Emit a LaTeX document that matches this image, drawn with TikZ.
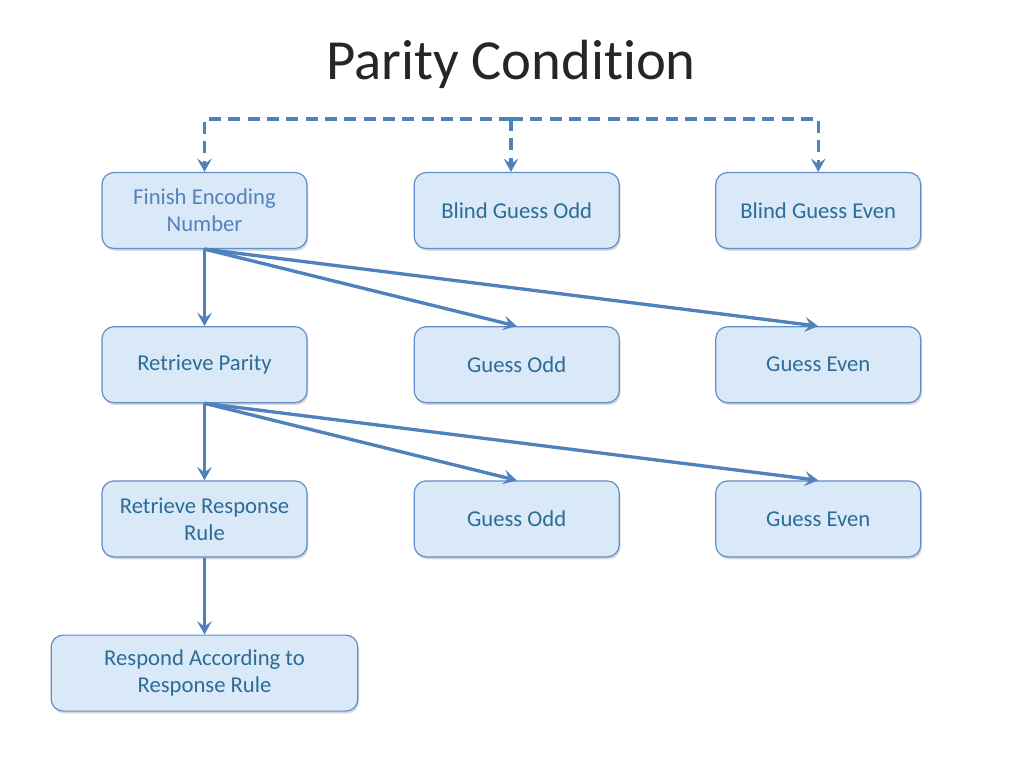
\documentclass[tikz,border=0pt]{standalone}
\usepackage{fontspec}
\setmainfont{Carlito}[Ligatures=NoCommon]
\usetikzlibrary{arrows.meta,positioning,shadows}
\definecolor{figline}{RGB}{79,129,189}
\definecolor{figfill}{RGB}{218,233,247}
\definecolor{figedge}{RGB}{100,142,200}
\definecolor{figtext}{RGB}{44,108,150}
\definecolor{figtextlt}{RGB}{84,130,190}

\begin{document}
\begin{tikzpicture}[x=0.75pt,y=-0.75pt,
  node distance=57.75pt and 79.5pt,
  box/.style={draw=figedge,fill=figfill,rounded corners=9pt,line width=0.9pt,
              minimum width=153.75pt,minimum height=57pt,align=center,
              text=figtext,font=\fontsize{17}{20.25}\selectfont,
              drop shadow={opacity=0.3,shadow xshift=1pt,shadow yshift=-1.8pt}},
  link/.style={draw=figline,line width=2.5pt,->},
  dashlink/.style={link,dash pattern=on 9pt off 5.5pt},
  >={Stealth[length=10pt,width=11pt,inset=4pt]}
]
\useasboundingbox (0,0) rectangle (1024,768);
\node[font=\fontsize{42.5}{50}\selectfont,text=black!85] (title) at (511,64) {Parity Condition};

\node[box,text=figtextlt] (fen) at (204.5,210.5) {Finish Encoding\\Number};
\node[box,below=of fen] (rp) {Retrieve Parity};
\node[box,below=of rp] (rr) {Retrieve Response\\Rule};
\node[box,below=of rr,minimum width=230pt] (resp) {Respond According to\\Response Rule};
\node[box,right=of fen] (bgo) {Blind Guess Odd};
\node[box,right=71.5pt of bgo] (bge) {Blind Guess Even};
\node[box,right=of rp] (goa) {Guess Odd};
\node[box,right=71.5pt of goa] (gea) {Guess Even};
\node[box,right=of rr] (gob) {Guess Odd};
\node[box,right=71.5pt of gob] (geb) {Guess Even};

% blind guesses
\coordinate (top) at (511,119);
\draw[dashlink] (top) -| (fen.north);
\draw[dashlink] (top) -| (bge.north);
\draw[dashlink] (top) -- (top |- bgo.north);

\draw[link] (fen.south) -- (rp.north);
\draw[link] (fen.south) -- (goa.north);
\draw[link] (fen.south) -- (gea.north);
\draw[link] (rp.south) -- (rr.north);
\draw[link] (rp.south) -- (gob.north);
\draw[link] (rp.south) -- (geb.north);
\draw[link] (rr.south) -- (resp.north);
\end{tikzpicture}
\end{document}
